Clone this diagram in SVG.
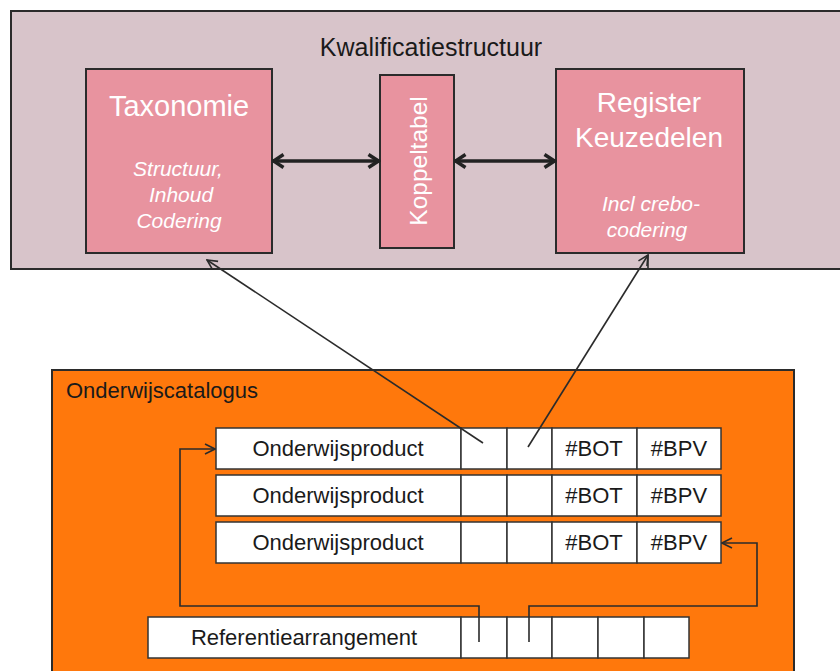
<svg xmlns="http://www.w3.org/2000/svg" width="840" height="671" viewBox="0 0 840 671">
<style>
text{font-family:"Liberation Sans",Arial,sans-serif}
.frame{stroke:#2b2b2b;stroke-width:2}
.pink{fill:#e8939f;stroke:#2b2b2b;stroke-width:2}
.wt{fill:#ffffff}
.it{fill:#ffffff;font-style:italic;font-size:21px}
.cell{fill:#ffffff;stroke:#333333;stroke-width:1.5}
.ct{fill:#1a1a1a;font-size:22px}
.thin{fill:none;stroke:#2b2b2b;stroke-width:1.6}
.thick{fill:none;stroke:#222222;stroke-width:3.5}
</style>
<defs>
<marker id="ah" viewBox="0 0 12 12" refX="11" refY="6" markerWidth="12" markerHeight="12" markerUnits="userSpaceOnUse" orient="auto-start-reverse">
<path d="M1,1 L11,6 L1,11" fill="none" stroke="#2b2b2b" stroke-width="1.6"/>
</marker>
<marker id="ahb" viewBox="0 0 14 16" refX="12.5" refY="8" markerWidth="14" markerHeight="16" markerUnits="userSpaceOnUse" orient="auto-start-reverse">
<path d="M2,1.5 L12,8 L2,14.5" fill="none" stroke="#222222" stroke-width="3.5"/>
</marker>
</defs>
<rect width="840" height="671" fill="#ffffff"/>

<g id="kwalificatiestructuur">
<rect x="11" y="11" width="840" height="258" fill="#d8c4ca" class="frame"/>
<text x="431" y="56" text-anchor="middle" font-size="25" fill="#1a1a1a">Kwalificatiestructuur</text>
</g>

<g id="taxonomie">
<rect x="86" y="69" width="186" height="184" class="pink"/>
<text x="179" y="116" text-anchor="middle" font-size="29" class="wt">Taxonomie</text>
<text x="178" y="176" text-anchor="middle" class="it">Structuur,</text>
<text x="181" y="202" text-anchor="middle" class="it">Inhoud</text>
<text x="179" y="228" text-anchor="middle" class="it">Codering</text>
</g>

<g id="koppeltabel">
<rect x="380" y="75" width="74" height="173" class="pink"/>
<text transform="translate(427,161) rotate(-90)" text-anchor="middle" font-size="24.5" class="wt">Koppeltabel</text>
</g>

<g id="register">
<rect x="556" y="69" width="188" height="184" class="pink"/>
<text x="649" y="112" text-anchor="middle" font-size="28" class="wt">Register</text>
<text x="649" y="147" text-anchor="middle" font-size="28" class="wt">Keuzedelen</text>
<text x="651" y="211" text-anchor="middle" class="it">Incl crebo-</text>
<text x="647" y="237" text-anchor="middle" class="it">codering</text>
</g>

<g id="onderwijscatalogus">
<rect x="52" y="370" width="742" height="320" fill="#ff780c" class="frame"/>
<text x="66" y="398" font-size="22" fill="#1a1a1a">Onderwijscatalogus</text>
</g>

<g id="onderwijsproduct-1">
<rect x="216" y="428" width="245" height="41" class="cell"/>
<rect x="461" y="428" width="46" height="41" class="cell"/>
<rect x="507" y="428" width="45" height="41" class="cell"/>
<rect x="552" y="428" width="85" height="41" class="cell"/>
<rect x="637" y="428" width="84" height="41" class="cell"/>
<text x="338" y="456" text-anchor="middle" class="ct">Onderwijsproduct</text>
<text x="594" y="456" text-anchor="middle" class="ct">#BOT</text>
<text x="679" y="456" text-anchor="middle" class="ct">#BPV</text>
</g>

<g id="onderwijsproduct-2">
<rect x="216" y="475" width="245" height="41" class="cell"/>
<rect x="461" y="475" width="46" height="41" class="cell"/>
<rect x="507" y="475" width="45" height="41" class="cell"/>
<rect x="552" y="475" width="85" height="41" class="cell"/>
<rect x="637" y="475" width="84" height="41" class="cell"/>
<text x="338" y="503" text-anchor="middle" class="ct">Onderwijsproduct</text>
<text x="594" y="503" text-anchor="middle" class="ct">#BOT</text>
<text x="679" y="503" text-anchor="middle" class="ct">#BPV</text>
</g>

<g id="onderwijsproduct-3">
<rect x="216" y="522" width="245" height="41" class="cell"/>
<rect x="461" y="522" width="46" height="41" class="cell"/>
<rect x="507" y="522" width="45" height="41" class="cell"/>
<rect x="552" y="522" width="85" height="41" class="cell"/>
<rect x="637" y="522" width="84" height="41" class="cell"/>
<text x="338" y="550" text-anchor="middle" class="ct">Onderwijsproduct</text>
<text x="594" y="550" text-anchor="middle" class="ct">#BOT</text>
<text x="679" y="550" text-anchor="middle" class="ct">#BPV</text>
</g>

<g id="referentiearrangement">
<rect x="148" y="617" width="313" height="41" class="cell"/>
<rect x="461" y="617" width="46" height="41" class="cell"/>
<rect x="507" y="617" width="45" height="41" class="cell"/>
<rect x="552" y="617" width="46" height="41" class="cell"/>
<rect x="598" y="617" width="46" height="41" class="cell"/>
<rect x="644" y="617" width="45" height="41" class="cell"/>
<text x="304" y="645" text-anchor="middle" class="ct">Referentiearrangement</text>
</g>

<g id="connectors">
<line x1="273" y1="161" x2="379" y2="161" class="thick" marker-start="url(#ahb)" marker-end="url(#ahb)"/>
<line x1="455" y1="161" x2="555" y2="161" class="thick" marker-start="url(#ahb)" marker-end="url(#ahb)"/>
<path d="M483,443 L207,260" class="thin" marker-end="url(#ah)"/>
<path d="M528,447 L648,255" class="thin" marker-end="url(#ah)"/>
<path d="M648,255 L648,269" class="thin"/>
<path d="M479,642 L479,606 L180,606 L180,449 L215,449" class="thin" marker-end="url(#ah)"/>
<path d="M529,642 L529,606 L757,606 L757,543 L722,543" class="thin" marker-end="url(#ah)"/>
</g>
</svg>
